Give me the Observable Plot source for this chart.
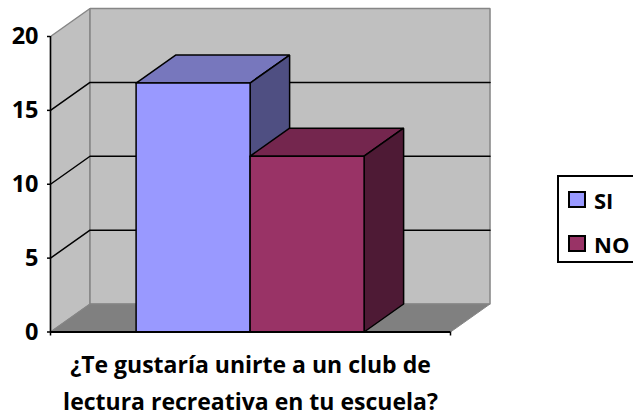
<!DOCTYPE html>
<html>
<head>
<meta charset="utf-8">
<script src="https://cdn.jsdelivr.net/npm/d3@7"></script>
<script src="https://cdn.jsdelivr.net/npm/@observablehq/plot@0.6"></script>
<style>
html,body{margin:0;padding:0;background:#fff;overflow:hidden;width:633px;height:415px}
#wrap{position:relative;width:633px;height:415px;font-family:"Open Sans",sans-serif;font-weight:700;color:#000}
#legend{position:absolute;left:557px;top:175px;width:90px;height:88px;border:2px solid #000;box-sizing:border-box;background:#fff}
.sw{position:absolute;left:9px;width:18px;height:17px;border:2px solid #000;box-sizing:border-box}
.lb{position:absolute;left:35px;font-size:22px;line-height:24px}
</style>
</head>
<body>
<div id="wrap"></div>
<script>
const categories = ["SI", "NO"];
const values = [16.85, 11.9];
const yTicks = [0, 5, 10, 15, 20];
const titleLines = ["¿Te gustaría unirte a un club de", "lectura recreativa en tu escuela?"];
const frontColors = ["#9999ff", "#993366"];
const topColors = ["#7777bd", "#74264e"];
const sideColors = ["#4f4f82", "#4e1a35"];
const yMax = 20;
const xDepth = 0.0988;   // depth of the box, in x units
const yDepth = 1.895;    // depth of the box, in y units
const barStart = 0.214;
const barWidth = 0.285;

const wall = "#c0c0c0", floor = "#808080", edge = "#868686";
function face(pts, fill, stroke, strokeWidth) {
  return Plot.line(pts.concat([pts[0]]), {x: d => d[0], y: d => d[1], fill, stroke, strokeWidth, curve: "linear", strokeLinejoin: "miter"});
}
const marks = [
  face([[0,0],[xDepth,yDepth],[xDepth,yMax+yDepth],[0,yMax]], wall, edge, 1.5),
  face([[xDepth,yDepth],[1+xDepth,yDepth],[1+xDepth,yMax+yDepth],[xDepth,yMax+yDepth]], wall, edge, 1.5),
  face([[0,0],[1,0],[1+xDepth,yDepth],[xDepth,yDepth]], floor, edge, 1)
];
for (const t of yTicks.filter(t => t > 0 && t < yMax)) {
  marks.push(Plot.line([[0,t],[xDepth,t+yDepth],[1+xDepth,t+yDepth]], {x: d => d[0], y: d => d[1], stroke: "#000", strokeWidth: 1.5}));
}
values.forEach((v, i) => {
  const a = barStart + i * barWidth, b = a + barWidth;
  marks.push(
    face([[a,v],[b,v],[b+xDepth,v+yDepth],[a+xDepth,v+yDepth]], topColors[i], "#000", 1.5),
    face([[b,0],[b+xDepth,yDepth],[b+xDepth,v+yDepth],[b,v]], sideColors[i], "#000", 1.5),
    face([[a,0],[b,0],[b,v],[a,v]], frontColors[i], "#000", 1.5)
  );
});
marks.push(
  Plot.ruleY([0], {x1: 0, x2: 1, stroke: "#000", strokeWidth: 2}),
  Plot.ruleX([0], {y1: 0, y2: yMax, stroke: "#000", strokeWidth: 1.5}),
  Plot.axisY({ticks: yTicks, tickSize: 3, tickPadding: 9, label: null, fontSize: 23.5, stroke: "#000", fill: "#000", strokeWidth: 1.5}),
  Plot.axisX({ticks: [0, 1], tickSize: 4, tickFormat: () => "", label: null, stroke: "#000", strokeWidth: 1.5}),
  Plot.text([titleLines[0]], {x: () => 0.5, frameAnchor: "bottom", dy: 34, text: d => d, fontSize: 23, fontWeight: 700, fill: "#000", lineAnchor: "middle"}),
  Plot.text([titleLines[1]], {x: () => 0.5, frameAnchor: "bottom", dy: 71, text: d => d, fontSize: 23, fontWeight: 700, fill: "#000", lineAnchor: "middle"})
);

const chart = Plot.plot({
  width: 633, height: 415,
  marginLeft: 50, marginRight: 183, marginTop: 36, marginBottom: 83.5,
  x: {domain: [0, 1], axis: null},
  y: {domain: [0, yMax], axis: null},
  style: {fontFamily: "'Open Sans', sans-serif", fontWeight: 700, background: "#fff", overflow: "visible"},
  marks
});
const wrap = document.getElementById("wrap");
wrap.appendChild(chart);

const legend = document.createElement("div");
legend.id = "legend";
categories.forEach((c, i) => {
  const s = document.createElement("div");
  s.className = "sw";
  s.style.top = (i ? 58 : 14) + "px";
  s.style.background = frontColors[i];
  const l = document.createElement("div");
  l.className = "lb";
  l.style.top = (i ? 55 : 11) + "px";
  l.textContent = c;
  legend.append(s, l);
});
wrap.appendChild(legend);
</script>
</body>
</html>
